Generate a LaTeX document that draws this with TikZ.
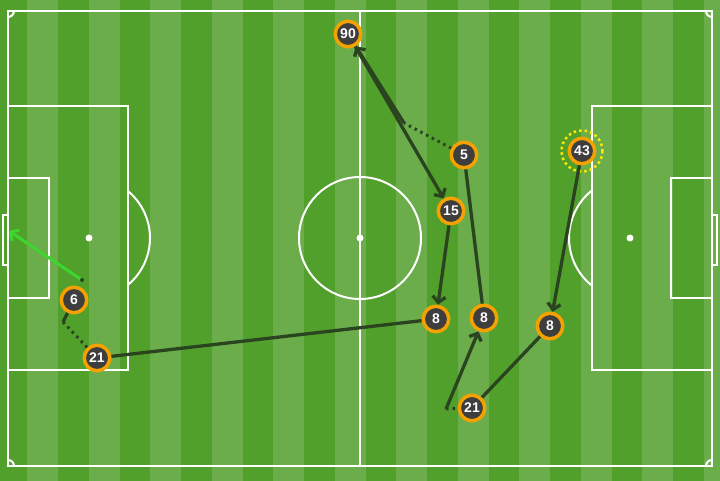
\documentclass[tikz,border=0pt]{standalone}
\usepackage{fontspec}
\setsansfont{Liberation Sans}
\usetikzlibrary{arrows.meta}

\definecolor{grass_light}{RGB}{106,173,74}
\definecolor{grass_dark}{RGB}{82,160,44}
\definecolor{ring_orange}{RGB}{245,161,0}
\definecolor{disc_grey}{RGB}{62,62,62}
\definecolor{pass_dark}{RGB}{42,68,32}
\definecolor{shot_green}{RGB}{60,214,46}
\definecolor{star_yellow}{RGB}{255,232,0}

\begin{document}
\begin{tikzpicture}[x=1pt, y=-1pt, % pixel grid, y runs downwards
player/.style={circle, draw=ring_orange, fill=disc_grey, line width=3.5pt, minimum size=25.5pt, inner sep=0pt, text=white, font=\sffamily\bfseries\fontsize{14}{14}\selectfont},
pitch_line/.style={draw=white, line width=2pt},
pass_line/.style={draw=pass_dark, line width=3.3pt},
pass_arrow/.style={pass_line, -{Straight Barb[length=6pt, width=13pt]}},
carry_dots/.style={draw=pass_dark, line width=3pt, dash pattern=on 2.5pt off 4pt},
shot_arrow/.style={draw=shot_green, line width=3pt, -{Straight Barb[length=6pt, width=13pt]}},
star_ring/.style={draw=star_yellow, line width=2.5pt, dash pattern=on 2.5pt off 3pt}
]
\useasboundingbox (0,0) rectangle (720,481);

% grass
\fill[grass_light] (0,0) rectangle (720,481);
\foreach \i in {0,...,11}
  \fill[grass_dark] (-3.5+61.5*\i,0) rectangle ++(30.75,481);

% markings
\draw[pitch_line] (8,11) rectangle (712,466);
\draw[pitch_line] (360,11) -- (360,466);
\draw[pitch_line] (360,238) circle[radius=61];
\draw[pitch_line] (8,106) rectangle (128,370);
\draw[pitch_line] (8,178) rectangle (49,298);
\draw[pitch_line] (592,106) rectangle (712,370);
\draw[pitch_line] (671,178) rectangle (712,298);
\draw[pitch_line, line width=1.5pt] (8,215) rectangle (3,265);
\draw[pitch_line, line width=1.5pt] (712,215) rectangle (717,265);
\draw[pitch_line] (89,238) ++(-50.3:61) arc[start angle=-50.3, end angle=50.3, radius=61];
\draw[pitch_line] (630,238) ++(129.7:61) arc[start angle=129.7, end angle=230.3, radius=61];
\draw[pitch_line] (14,11) arc[start angle=0, end angle=90, radius=6];
\draw[pitch_line] (712,17) arc[start angle=90, end angle=180, radius=6];
\draw[pitch_line] (8,460) arc[start angle=-90, end angle=0, radius=6];
\draw[pitch_line] (706,466) arc[start angle=180, end angle=270, radius=6];
\fill[white] (360,238) circle[radius=3.5];
\fill[white] (89,238) circle[radius=3.5];
\fill[white] (630,238) circle[radius=3.5];



\node[player](player_90) at (348,34) {90};
\node[player](player_5) at (464,155) {5};
\node[player](player_15) at (451,211) {15};
\node[player](player_8a) at (436,319) {8};
\node[player](player_8b) at (484,318) {8};
\node[player](player_8c) at (550,326) {8};
\node[player](player_21a) at (97,358) {21};
\node[player](player_21b) at (472,408) {21};
\node[player](player_6) at (74,300) {6};
\node[player](player_43) at (582,151) {43};
\draw[star_ring] (player_43) circle[radius=20.5];

\coordinate (turn_5) at (404,123);
\coordinate (start_21b) at (446,409);
\coordinate (turn_21a) at (63,322);
\coordinate (shot_start) at (82,280);
\coordinate (goal_mouth) at (9,231);



\draw[pass_arrow](player_43) to [] (player_8c);
\draw[pass_line](player_8c) to [] (player_21b);
\draw[carry_dots](start_21b) to [] (player_21b);
\draw[pass_arrow](start_21b) to [] (player_8b);
\draw[pass_line](player_8b) to [] (player_5);
\draw[carry_dots](player_5) to [] (turn_5);
\draw[pass_arrow](turn_5) to [] (player_90);
\draw[pass_arrow](player_90) to [] (player_15);
\draw[pass_arrow](player_15) to [] (player_8a);
\draw[pass_line](player_8a) to [] (player_21a);
\draw[carry_dots](player_21a) to [] (turn_21a);
\draw[pass_line](turn_21a) to [] (player_6);

\draw[shot_arrow](shot_start) to [] (goal_mouth);
\fill[pass_dark] (shot_start) circle[radius=2];
\end{tikzpicture}
\end{document}
